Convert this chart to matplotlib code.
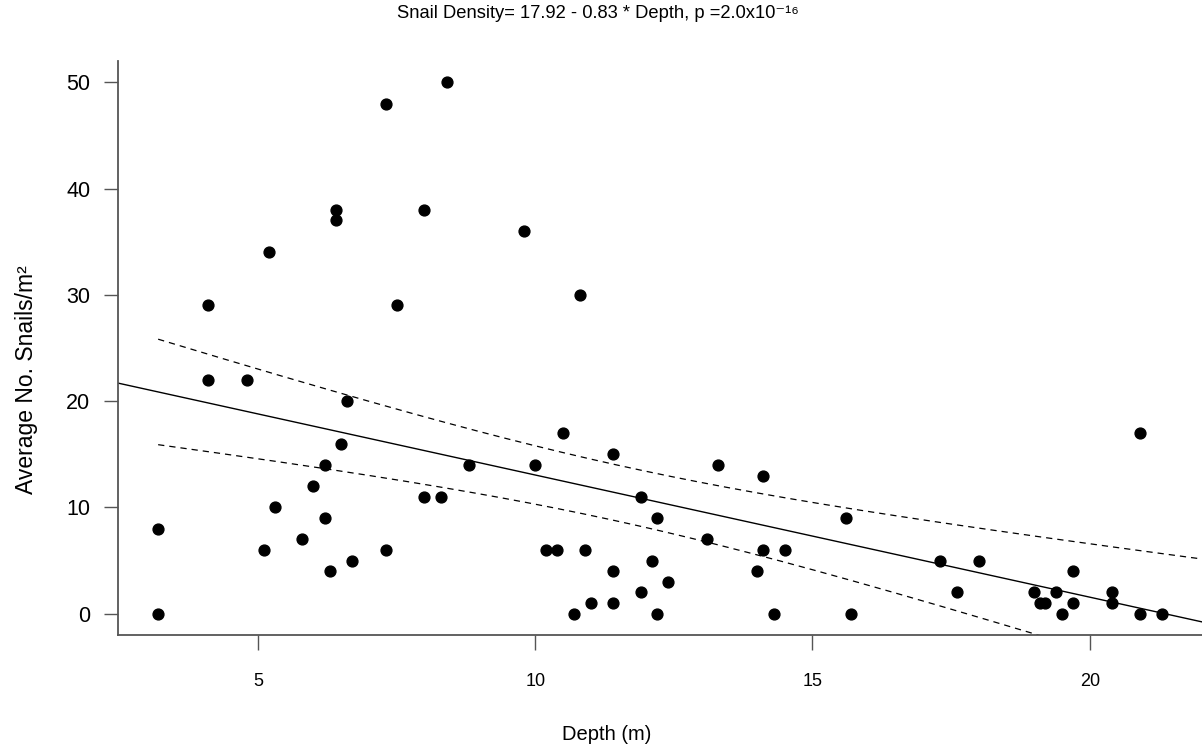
import numpy as np
import matplotlib
matplotlib.use('Agg')
import matplotlib.pyplot as plt

plt.rcParams['font.family'] = ['Liberation Sans', 'DejaVu Sans']

# depth (m) and average snails per m2
depth = [3.2, 3.2, 4.1, 4.1, 4.8, 5.1, 5.2, 5.3, 5.8, 6.0, 6.2, 6.2, 6.3, 6.4, 6.4,
         6.5, 6.6, 6.7, 7.3, 7.3, 7.5, 8.0, 8.0, 8.3, 8.4, 8.8, 9.8, 10.0, 10.2, 10.4,
         10.5, 10.7, 10.8, 10.9, 11.0, 11.4, 11.4, 11.4, 11.9, 11.9, 12.1, 12.2, 12.2,
         12.4, 13.1, 13.3, 14.0, 14.1, 14.1, 14.3, 14.5, 15.6, 15.7, 17.3, 17.6, 18.0,
         19.0, 19.1, 19.2, 19.4, 19.5, 19.7, 19.7, 20.4, 20.4, 20.9, 20.9, 21.3]
snails = [8, 0, 29, 22, 22, 6, 34, 10, 7, 12, 14, 9, 4, 38, 37,
          16, 20, 5, 48, 6, 29, 38, 11, 11, 50, 14, 36, 14, 6, 6,
          17, 0, 30, 6, 1, 15, 4, 1, 11, 2, 5, 9, 0,
          3, 7, 14, 4, 13, 6, 0, 6, 9, 0, 5, 2, 5,
          2, 1, 1, 2, 0, 4, 1, 2, 1, 17, 0, 0]

x = np.array(depth, dtype=float)
y = np.array(snails, dtype=float)

# linear fit + 95% confidence band for the mean
n = len(x)
slope, icpt = np.polyfit(x, y, 1)
resid = y - (icpt + slope * x)
s = np.sqrt(np.sum(resid ** 2) / (n - 2))
sxx = np.sum((x - x.mean()) ** 2)
t_crit = 1.9966
newx = np.linspace(x.min(), 23, 200)
fit = icpt + slope * newx
se = s * np.sqrt(1.0 / n + (newx - x.mean()) ** 2 / sxx)

fig = plt.figure(figsize=(12.02, 7.54), dpi=100)
ax = fig.add_axes([118 / 1202, 1 - 635 / 754, 1 - 118 / 1202, (635 - 61) / 754])

ax.plot(x, y, 'o', color='black', ms=7.8, zorder=3)
ax.axline((0, icpt), slope=slope, color='black', lw=1.0)
ax.plot(newx, fit + t_crit * se, color='black', lw=0.9, ls=(0, (5, 4)))
ax.plot(newx, fit - t_crit * se, color='black', lw=0.9, ls=(0, (5, 4)))

rng = x.max() - x.min()
ax.set_xlim(x.min() - 0.04 * rng, x.max() + 0.04 * rng)
ax.set_ylim(-2, 52)
ax.set_xticks([5, 10, 15, 20])
ax.set_yticks([0, 10, 20, 30, 40, 50])

for side in ['top', 'right']:
    ax.spines[side].set_visible(False)
for side in ['left', 'bottom']:
    ax.spines[side].set_color('#555555')
    ax.spines[side].set_linewidth(1.3)

ax.tick_params(axis='x', length=11, width=1.0, color='#555555', pad=16, labelsize=13)
ax.tick_params(axis='y', length=10, width=1.0, color='#555555', pad=10, labelsize=15.5)

fig.text(0.4975, 0.982, 'Snail Density= 17.92 - 0.83 * Depth, p =2.0x10⁻¹⁶',
         ha='center', va='center', fontsize=13.2)
fig.text(607 / 1202, 1 - 735 / 754, 'Depth (m)', ha='center', va='center', fontsize=14.5)
fig.text(26 / 1202, 1 - 380 / 754, 'Average No. Snails/m²', ha='center', va='center',
         rotation=90, fontsize=16.5)

fig.savefig('out.png', dpi=100)
